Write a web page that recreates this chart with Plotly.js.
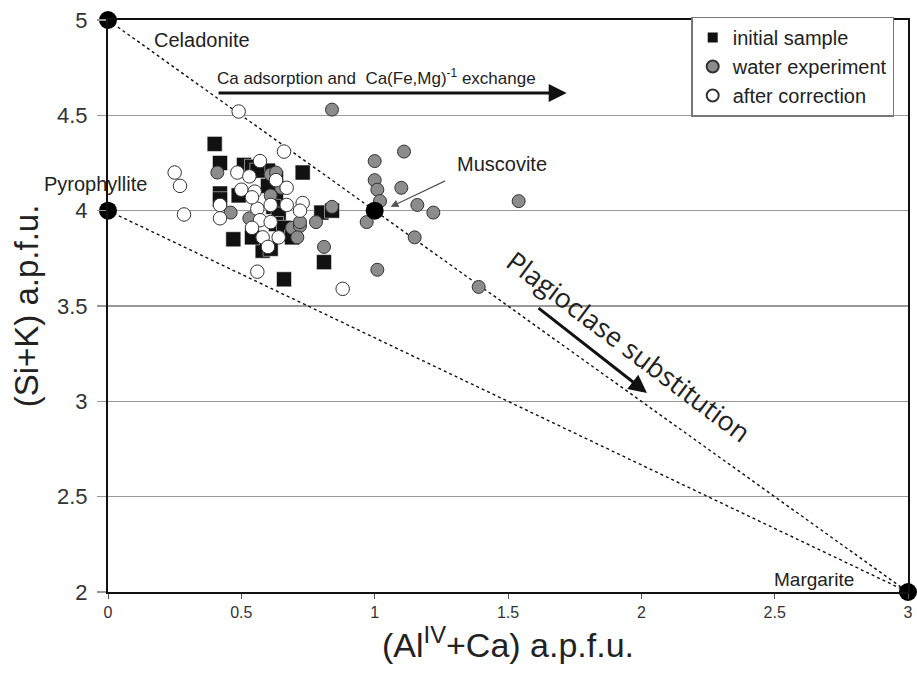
<!DOCTYPE html>
<html>
<head>
<meta charset="utf-8">
<script src="https://cdn.plot.ly/plotly-3.0.1.min.js"></script>
<style>html,body{margin:0;padding:0;background:#fff;}#chart{width:917px;height:675px;}</style>
</head>
<body>
<div id="chart"></div>
<script>
// ---- data ----
var initialX = [0.40,0.42,0.51,0.54,0.60,0.63,0.73,0.42,0.42,0.49,0.63,0.62,0.64,0.63,0.66,0.69,0.58,0.61,0.54,0.47,0.66,0.81,0.80,0.84,0.56,0.60];
var initialY = [4.35,4.25,4.24,4.23,4.21,4.17,4.20,4.09,4.06,4.08,4.08,4.02,3.98,3.93,3.91,3.86,3.79,3.80,3.86,3.85,3.64,3.73,3.99,4.00,4.21,4.13];

var waterX = [0.84,1.11,1.00,1.00,1.01,1.10,1.02,1.16,1.22,1.54,0.97,1.15,1.01,1.39,0.81,0.84,0.78,0.41,0.46,0.61,0.63,0.65,0.53,0.69,0.72,0.71,0.61,0.72];
var waterY = [4.53,4.31,4.26,4.16,4.11,4.12,4.05,4.03,3.99,4.05,3.94,3.86,3.69,3.60,3.81,4.02,3.94,4.20,3.99,4.19,4.20,4.12,3.96,3.91,3.92,3.86,4.08,3.94];

var afterX = [0.49,0.25,0.27,0.285,0.66,0.57,0.485,0.53,0.50,0.55,0.67,0.42,0.42,0.56,0.61,0.67,0.73,0.72,0.57,0.61,0.54,0.58,0.64,0.60,0.56,0.88,0.54,0.63];
var afterY = [4.52,4.20,4.13,3.98,4.31,4.26,4.20,4.18,4.11,4.10,4.12,4.03,3.96,4.01,4.03,4.03,4.04,4.00,3.95,3.94,3.91,3.86,3.86,3.81,3.68,3.59,4.07,4.16];

var endNames = ["Celadonite","Pyrophyllite","Muscovite","Margarite"];
var endX = [0, 0, 1, 3];
var endY = [5, 4, 4, 2];

var celMarX = [0, 3], celMarY = [5, 2];
var pyrMarX = [0, 3], pyrMarY = [4, 2];

var xTicks = [0, 0.5, 1, 1.5, 2, 2.5, 3];
var xTickText = ["0","0.5","1","1.5","2","2.5","3"];
var yTicks = [2, 2.5, 3, 3.5, 4, 4.5, 5];
var yTickText = ["2","2.5","3","3.5","4","4.5","5"];

var FONT = "Liberation Sans, Arial, sans-serif";

var traces = [
  {x: celMarX, y: celMarY, mode: "lines", showlegend: false, hoverinfo: "skip",
   line: {color: "#111", width: 1.4, dash: "dot"}},
  {x: pyrMarX, y: pyrMarY, mode: "lines", showlegend: false, hoverinfo: "skip",
   line: {color: "#111", width: 1.4, dash: "dot"}},
  {x: initialX, y: initialY, mode: "markers", name: "initial sample",
   marker: {symbol: "square", size: 15, color: "#111", line: {color: "#fff", width: 0.5}}},
  {x: waterX, y: waterY, mode: "markers", name: "water experiment",
   marker: {symbol: "circle", size: 13, color: "#8c8c8c", line: {color: "#333", width: 1}}},
  {x: afterX, y: afterY, mode: "markers", name: "after correction",
   marker: {symbol: "circle", size: 13.5, color: "#fff", line: {color: "#333", width: 1}}},
  {x: endX, y: endY, text: endNames, mode: "markers", showlegend: false,
   marker: {symbol: "circle", size: 18, color: "#000"}}
];
traces.forEach(function(t){ t.cliponaxis = false; });

var layout = {
  width: 917, height: 675,
  margin: {l: 108, r: 9, t: 20, b: 83},
  paper_bgcolor: "#fff", plot_bgcolor: "#fff",
  font: {family: FONT, color: "#222"},
  showlegend: true,
  legend: {x: 0.729, y: 1.006, xanchor: "left", yanchor: "top",
           bgcolor: "#fff", bordercolor: "#777", borderwidth: 1.5,
           font: {size: 20, family: FONT, color: "#222"}, itemsizing: "constant"},
  xaxis: {range: [0, 3], tickvals: xTicks, ticktext: xTickText,
          showgrid: false, zeroline: false, showline: true, linecolor: "#111", linewidth: 2,
          mirror: true, ticks: "outside", ticklen: 5, tickcolor: "#555", tickwidth: 1,
          tickfont: {size: 16, family: FONT, color: "#333"},
          title: {text: "(Al<sup>IV</sup>+Ca) a.p.f.u.", font: {size: 34, family: FONT, color: "#222"}, standoff: 0}},
  yaxis: {range: [2, 5], tickvals: yTicks, ticktext: yTickText,
          showgrid: true, gridcolor: "#999", gridwidth: 1.2, zeroline: false,
          showline: true, linecolor: "#111", linewidth: 2, mirror: true,
          ticks: "outside", ticklen: 9, tickcolor: "#999", tickwidth: 1.2,
          ticklabelstandoff: 5,
          tickfont: {size: 22, family: FONT, color: "#333"},
          title: {text: "(Si+K) a.p.f.u.", font: {size: 33, family: FONT, color: "#222"}, standoff: 8}},
  annotations: [
    {x: 0.353, y: 4.895, xref: "x", yref: "y", text: "Celadonite", showarrow: false, font: {size: 20}},
    {x: -0.016, y: 4.14, xref: "paper", yref: "y", xanchor: "center", text: "Pyrophyllite", showarrow: false, font: {size: 20}},
    {x: 1.477, y: 4.245, xref: "x", yref: "y", text: "Muscovite", showarrow: false, font: {size: 20}},
    {x: 2.647, y: 2.063, xref: "x", yref: "y", text: "Margarite", showarrow: false, font: {size: 19}},
    {x: 1.06, y: 4.02, xref: "x", yref: "y", ax: 1.27, ay: 4.16, axref: "x", ayref: "y",
     text: "", showarrow: true, arrowhead: 2, arrowsize: 1.3, arrowwidth: 1.2, arrowcolor: "#555", standoff: 0},
    {x: 1.005, y: 4.70, xref: "x", yref: "y", text: "Ca adsorption and  Ca(Fe,Mg)<sup>-1</sup> exchange",
     showarrow: false, font: {size: 17}},
    {x: 1.72, y: 4.617, xref: "x", yref: "y", ax: 0.409, ay: 4.617, axref: "x", ayref: "y",
     text: "", showarrow: true, arrowhead: 2, arrowsize: 1.2, arrowwidth: 3, arrowcolor: "#111", standoff: 0},
    {x: 2.021, y: 3.044, xref: "x", yref: "y", ax: 1.609, ay: 3.495, axref: "x", ayref: "y",
     text: "", showarrow: true, arrowhead: 2, arrowsize: 1.2, arrowwidth: 3, arrowcolor: "#111", standoff: 0},
    {x: 1.955, y: 3.29, xref: "x", yref: "y", text: "Plagioclase substitution", showarrow: false,
     textangle: 37, font: {size: 27, family: "Open Sans, Noto Sans, sans-serif", color: "#222"}}
  ]
};

Plotly.newPlot("chart", traces, layout, {displayModeBar: false, staticPlot: true});
</script>
</body>
</html>
